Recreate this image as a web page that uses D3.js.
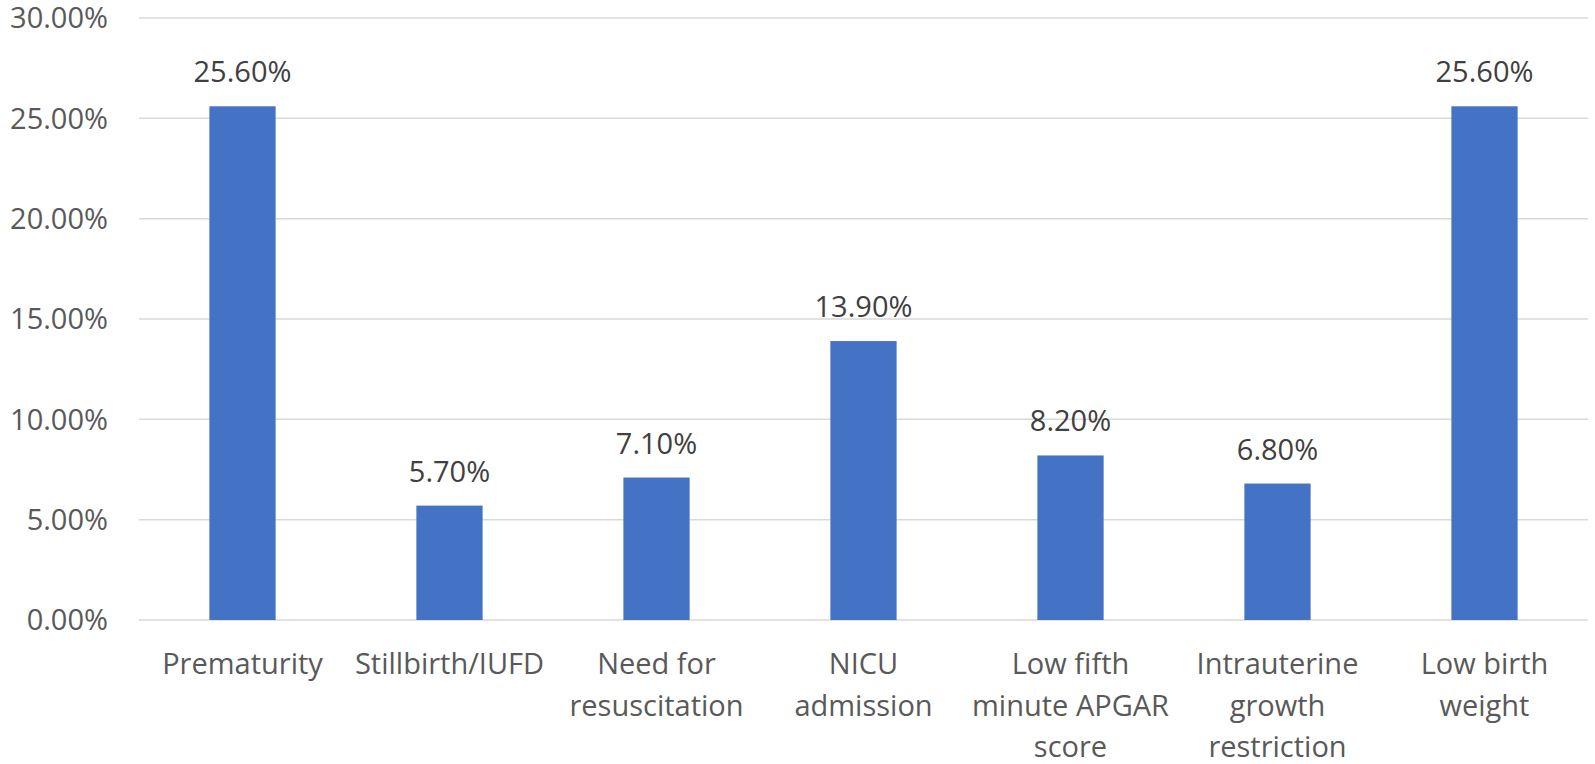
<!DOCTYPE html>
<html>
<head>
<meta charset="utf-8">
<script src="https://cdn.jsdelivr.net/npm/d3@7"></script>
<style>
  html, body { margin: 0; padding: 0; background: #fff; }
  svg { display: block; }
</style>
</head>
<body>
<div id="chart" style="width:1595px;height:764px;"></div>
<script>
// data
const categories = [
  ['Prematurity'],
  ['Stillbirth/IUFD'],
  ['Need for', 'resuscitation'],
  ['NICU', 'admission'],
  ['Low fifth', 'minute APGAR', 'score'],
  ['Intrauterine', 'growth', 'restriction'],
  ['Low birth', 'weight']
];
const values = [25.6, 5.7, 7.1, 13.9, 8.2, 6.8, 25.6];
const yTicks = [0, 5, 10, 15, 20, 25, 30];

function barChart(_) {
  const _w = _.clientWidth;
  const _h = _.clientHeight;
  const m = {l: 139, r: 7, t: 18, b: 144};
  const font = '"Open Sans", sans-serif';
  const fs = 29;
  const txt = '#595959';

  const root = d3.select(_);
  const svg = root.append('svg')
    .attr('width', _w)
    .attr('height', _h);

  const x = d3.scaleBand()
    .domain(d3.range(values.length))
    .range([m.l, _w - m.r])
    .paddingInner(0.68)
    .paddingOuter(0.34);

  const y = d3.scaleLinear()
    .domain([0, 30])
    .range([_h - m.b, m.t]);

  // gridlines
  svg.append('g')
    .selectAll('line')
    .data(yTicks)
    .enter().append('line')
    .attr('x1', m.l)
    .attr('x2', _w - m.r)
    .attr('y1', d => y(d))
    .attr('y2', d => y(d))
    .style('stroke', '#d9d9d9')
    .style('stroke-width', '1.5px');

  // y labels
  svg.append('g')
    .selectAll('text')
    .data(yTicks)
    .enter().append('text')
    .attr('x', 108)
    .attr('y', d => y(d))
    .attr('dy', '0.36em')
    .attr('text-anchor', 'end')
    .style('font-family', font)
    .style('font-size', fs + 'px')
    .style('fill', txt)
    .text(d => d3.format('.2f')(d) + '%');

  // bars
  svg.append('g')
    .selectAll('rect')
    .data(values)
    .enter().append('rect')
    .attr('x', (d, i) => x(i))
    .attr('width', x.bandwidth())
    .attr('y', d => y(d))
    .attr('height', d => y(0) - y(d))
    .attr('fill', '#4472c4');

  // value labels
  svg.append('g')
    .selectAll('text')
    .data(values)
    .enter().append('text')
    .attr('x', (d, i) => x(i) + x.bandwidth() / 2)
    .attr('y', d => y(d) - 24)
    .attr('text-anchor', 'middle')
    .style('font-family', font)
    .style('font-size', fs + 'px')
    .style('fill', '#404040')
    .text(d => d3.format('.2f')(d) + '%');

  // category labels
  const cat = svg.append('g')
    .selectAll('text')
    .data(categories)
    .enter().append('text')
    .attr('text-anchor', 'middle')
    .style('font-family', font)
    .style('font-size', fs + 'px')
    .style('fill', txt);
  cat.each(function(lines, i) {
    d3.select(this).selectAll('tspan')
      .data(lines)
      .enter().append('tspan')
      .attr('x', x(i) + x.bandwidth() / 2)
      .attr('y', (d, j) => y(0) + 54 + j * 41.5)
      .text(d => d);
  });
}

barChart(document.getElementById('chart'));
</script>
</body>
</html>
